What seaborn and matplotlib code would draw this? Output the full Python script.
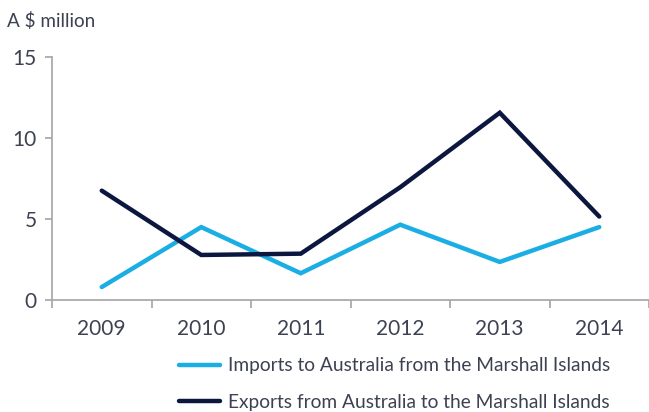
import numpy as np
import pandas as pd
import matplotlib
matplotlib.use("Agg")
import matplotlib.pyplot as plt
import seaborn as sns
from matplotlib.ticker import FixedLocator
from matplotlib.lines import Line2D

years = ["2009", "2010", "2011", "2012", "2013", "2014"]
imports = [0.8, 4.5, 1.65, 4.65, 2.35, 4.5]
exports = [6.75, 2.78, 2.86, 6.96, 11.56, 5.15]
series_names = ["Imports to Australia from the Marshall Islands",
                "Exports from Australia to the Marshall Islands"]
yticks = [0, 5, 10, 15]

sns.set_theme(style="white")
plt.rcParams['font.family'] = ['Lato', 'DejaVu Sans']

text_col = "#3d4252"
spine_col = "#aaaaaa"
colors = ["#1BAEE4", "#0C1740"]

df = pd.DataFrame({
    "pos": list(range(len(years))) * 2,
    "value": imports + exports,
    "series": [series_names[0]] * len(years) + [series_names[1]] * len(years),
})

fig = plt.figure(figsize=(6.49, 4.12), dpi=100)
ax = fig.add_axes([52/649, 1 - 300/412, 1 - 52/649, (300 - 57)/412])

sns.lineplot(data=df, x="pos", y="value", hue="series", palette=colors,
             linewidth=3.2, ax=ax, legend=False)
for ln in ax.lines:
    ln.set_solid_joinstyle("miter")
    ln.set_solid_capstyle("round")

ax.set_xlim(-0.5, len(years) - 0.5)
ax.set_ylim(0, 15)
ax.set_xlabel("")
ax.set_ylabel("")
ax.set_yticks(yticks)
ax.set_yticklabels([str(t) for t in yticks])
ax.set_xticks(range(len(years)))
ax.set_xticklabels(years)
ax.xaxis.set_minor_locator(FixedLocator(np.arange(-0.5, len(years), 1.0)))

for s in ["top", "right"]:
    ax.spines[s].set_visible(False)
for s in ["left", "bottom"]:
    ax.spines[s].set_color(spine_col)
    ax.spines[s].set_linewidth(1.3)

ax.tick_params(axis="y", which="major", left=True, length=5, width=1.3,
               color=spine_col, labelsize=15, labelcolor=text_col, pad=6)
ax.tick_params(axis="x", which="major", bottom=True, length=0,
               labelsize=15, labelcolor=text_col, pad=14)
ax.tick_params(axis="x", which="minor", bottom=True, length=6, width=1.3,
               color=spine_col)

fig.text(7/649, 1 - 27/412, "A $ million", fontsize=13.6, color=text_col,
         va="baseline", ha="left")

handles = [Line2D([0], [0], color=c, lw=3.2, solid_capstyle="round") for c in colors]
fig.legend(handles, series_names, loc="center left",
           bbox_to_anchor=(162/649, 1 - 384/412), frameon=False,
           fontsize=13.8, labelcolor=text_col, handlelength=2.1,
           handletextpad=0.45, labelspacing=1.0)

fig.savefig("out.png", dpi=100)
